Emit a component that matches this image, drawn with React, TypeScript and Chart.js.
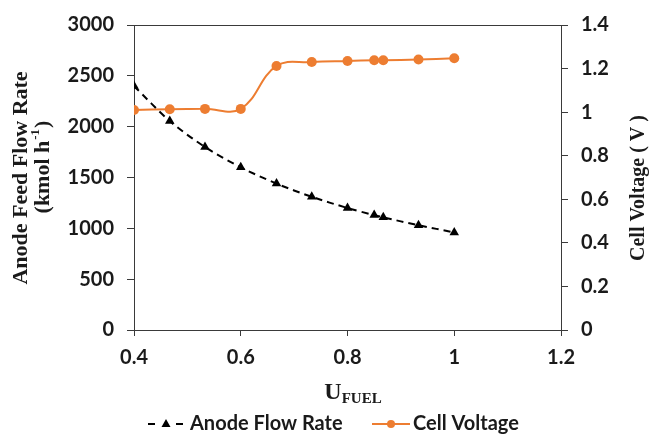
import React, { useEffect, useRef } from "react";
import { Chart, registerables } from "chart.js";

Chart.register(...registerables);

const uFuel = [0.4, 0.467, 0.533, 0.6, 0.667, 0.733, 0.8, 0.85, 0.867, 0.933, 1.0];
const anodeFlow = [2400, 2055, 1800, 1600, 1440, 1310, 1200, 1130, 1108, 1030, 960];
const cellVoltage = [1.01, 1.013, 1.015, 1.015, 1.212, 1.23, 1.235, 1.238, 1.238, 1.242, 1.247];

const leftTitle = "Anode Feed Flow Rate";
const leftUnit = ["(kmol h", "-1", ")"];
const rightTitle = "Cell Voltage ( V )";
const xTitle = ["U", "FUEL"];
const legendLabels = ["Anode Flow Rate", "Cell Voltage"];

const ORANGE = "#ED7D31";
const AXIS = "#3a3a3a";
const TEXT = "#1a1a1a";
const TICK_FONT = { family: "Lato", size: 20, weight: "bold" as const };
const SERIF = '"Liberation Serif", "Times New Roman", serif';

const fmt = (v: any) => String(+(+v).toFixed(1));

const textPlugin = {
  id: "customText",
  afterDraw(chart: any) {
    const ctx = chart.ctx as CanvasRenderingContext2D;
    const { left, right, top } = chart.chartArea;
    ctx.save();
    // top frame line
    ctx.strokeStyle = AXIS;
    ctx.lineWidth = 1;
    ctx.beginPath();
    ctx.moveTo(left, top + 0.5);
    ctx.lineTo(right, top + 0.5);
    ctx.stroke();

    ctx.fillStyle = TEXT;
    ctx.textBaseline = "middle";
    ctx.textAlign = "center";

    // left title line 1
    ctx.save();
    ctx.translate(21, 178);
    ctx.rotate(-Math.PI / 2);
    ctx.font = `bold 22px ${SERIF}`;
    ctx.fillText(leftTitle, 0, 0);
    ctx.restore();

    // left title line 2 with superscript
    ctx.save();
    ctx.translate(43, 168);
    ctx.rotate(-Math.PI / 2);
    ctx.textAlign = "left";
    const bigF = `bold 22px ${SERIF}`;
    const supF = `bold 13px ${SERIF}`;
    ctx.font = bigF;
    const w1 = ctx.measureText(leftUnit[0]).width;
    const w3 = ctx.measureText(leftUnit[2]).width;
    ctx.font = supF;
    const w2 = ctx.measureText(leftUnit[1]).width;
    const x0 = -(w1 + w2 + w3) / 2;
    ctx.font = bigF;
    ctx.fillText(leftUnit[0], x0, 0);
    ctx.font = supF;
    ctx.fillText(leftUnit[1], x0 + w1 + 1, -7);
    ctx.font = bigF;
    ctx.fillText(leftUnit[2], x0 + w1 + w2 + 2, 0);
    ctx.restore();

    // right title
    ctx.save();
    ctx.translate(639, 188);
    ctx.rotate(-Math.PI / 2);
    ctx.font = `bold 20px ${SERIF}`;
    ctx.fillText(rightTitle, 0, 0);
    ctx.restore();

    // x title
    ctx.save();
    ctx.textAlign = "left";
    ctx.font = `bold 24px ${SERIF}`;
    const uw = ctx.measureText(xTitle[0]).width;
    ctx.font = `bold 15px ${SERIF}`;
    const fw = ctx.measureText(xTitle[1]).width;
    const xs = 353 - (uw + fw) / 2;
    ctx.font = `bold 24px ${SERIF}`;
    ctx.fillText(xTitle[0], xs, 393);
    ctx.font = `bold 15px ${SERIF}`;
    ctx.fillText(xTitle[1], xs + uw, 399);
    ctx.restore();

    // legend
    const ly = 424;
    ctx.save();
    ctx.strokeStyle = "#000";
    ctx.lineWidth = 2;
    ctx.beginPath();
    ctx.moveTo(148, ly);
    ctx.lineTo(155, ly);
    ctx.moveTo(176, ly);
    ctx.lineTo(183, ly);
    ctx.stroke();
    ctx.fillStyle = "#000";
    ctx.beginPath();
    ctx.moveTo(166, ly - 5);
    ctx.lineTo(170.5, ly + 3);
    ctx.lineTo(161.5, ly + 3);
    ctx.closePath();
    ctx.fill();

    ctx.strokeStyle = ORANGE;
    ctx.beginPath();
    ctx.moveTo(372, ly);
    ctx.lineTo(410, ly);
    ctx.stroke();
    ctx.fillStyle = ORANGE;
    ctx.beginPath();
    ctx.arc(391, ly, 4, 0, Math.PI * 2);
    ctx.fill();

    ctx.fillStyle = TEXT;
    ctx.textAlign = "left";
    ctx.font = `bold 20px Lato`;
    ctx.fillText(legendLabels[0], 190, ly);
    ctx.fillText(legendLabels[1], 413, ly);
    ctx.restore();

    ctx.restore();
  },
};

export default function App() {
  const ref = useRef<HTMLCanvasElement>(null);
  useEffect(() => {
    const canvas = ref.current;
    if (!canvas) return;
    const chart = new Chart(canvas, {
      type: "line",
      data: {
        datasets: [
          {
            label: legendLabels[0],
            data: uFuel.map((x, i) => ({ x, y: anodeFlow[i] })),
            yAxisID: "y",
            borderColor: "#000",
            backgroundColor: "#000",
            borderWidth: 2,
            borderDash: [7, 5],
            pointStyle: "triangle",
            pointRadius: 5.5,
            pointBorderWidth: 0,
            tension: 0.3,
          },
          {
            label: legendLabels[1],
            data: uFuel.map((x, i) => ({ x, y: cellVoltage[i] })),
            yAxisID: "y1",
            borderColor: ORANGE,
            backgroundColor: ORANGE,
            borderWidth: 2,
            pointStyle: "circle",
            pointRadius: 5,
            pointBorderWidth: 0,
            tension: 0.4,
          },
        ],
      },
      options: {
        responsive: false,
        animation: false,
        layout: { padding: { left: 0, right: 0, top: 20, bottom: 0 } },
        plugins: { legend: { display: false }, tooltip: { enabled: false } },
        scales: {
          x: {
            type: "linear",
            min: 0.4,
            max: 1.2,
            ticks: { stepSize: 0.2, font: TICK_FONT, color: TEXT, padding: 10, callback: fmt },
            grid: { drawOnChartArea: false, drawTicks: true, tickLength: 6, color: AXIS },
            border: { color: AXIS, width: 1 },
            afterFit: (s: any) => {
              s.height = 104;
            },
          },
          y: {
            position: "left",
            min: 0,
            max: 3000,
            ticks: { stepSize: 500, font: TICK_FONT, color: TEXT, padding: 13, callback: (v: any) => String(v) },
            grid: { drawOnChartArea: false, drawTicks: true, tickLength: 7, color: AXIS },
            border: { color: AXIS, width: 1 },
            afterFit: (s: any) => {
              s.width = 134;
            },
          },
          y1: {
            position: "right",
            min: 0,
            max: 1.4,
            ticks: { stepSize: 0.2, font: TICK_FONT, color: TEXT, padding: 13, callback: fmt },
            grid: { drawOnChartArea: false, drawTicks: true, tickLength: 7, color: AXIS },
            border: { color: AXIS, width: 1 },
            afterFit: (s: any) => {
              s.width = 88;
            },
          },
        },
      },
      plugins: [textPlugin],
    });
    return () => chart.destroy();
  }, []);
  return (
    <div style={{ position: "fixed", left: 0, top: 0, width: 649, height: 434, background: "#fff" }}>
      <canvas ref={ref} width={649} height={434} />
    </div>
  );
}
